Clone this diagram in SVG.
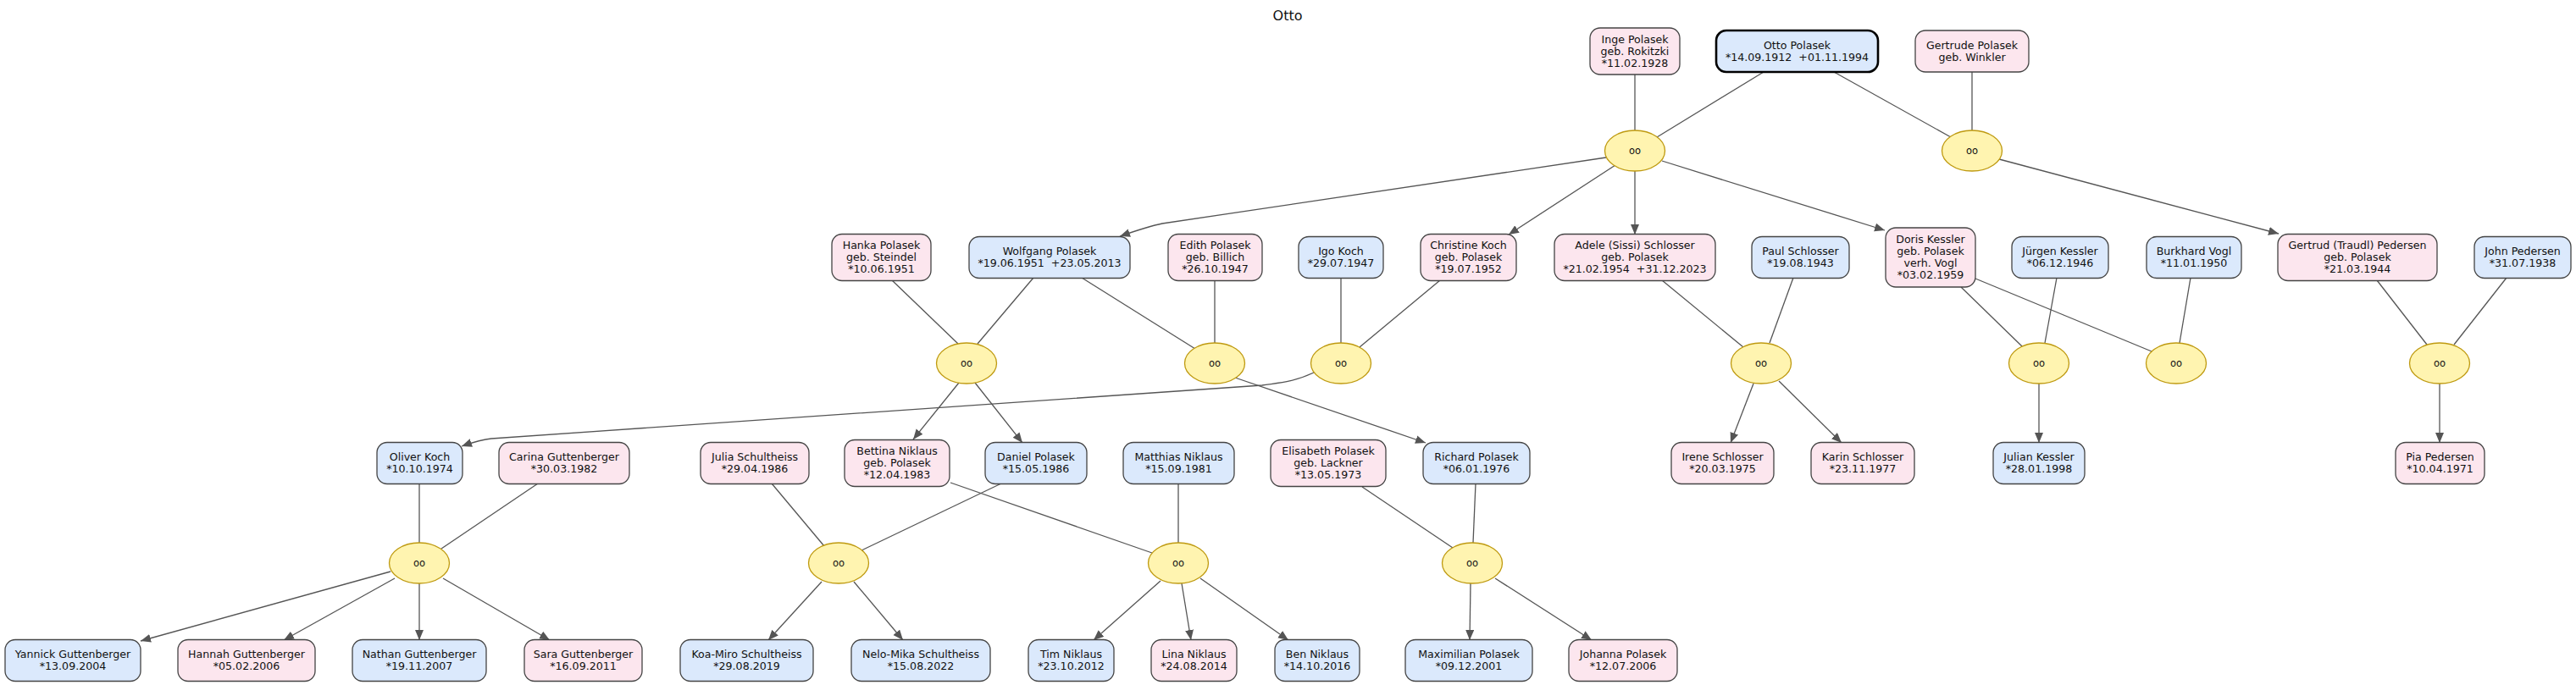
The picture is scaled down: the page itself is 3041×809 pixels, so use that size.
<svg xmlns="http://www.w3.org/2000/svg" width="3041" height="809" viewBox="0 0 3041 809">
<style>
text{font-family:"DejaVu Sans","Liberation Sans",sans-serif;font-size:12.6px;fill:#111;text-anchor:middle;white-space:pre}
.title{font-size:16px}
.m rect{fill:#dbe9fc;stroke:#444;stroke-width:1.3}
.f rect{fill:#fce6ee;stroke:#444;stroke-width:1.3}
.root rect{stroke:#000;stroke-width:2.6}
.mar ellipse{fill:#fff4b0;stroke:#bf9a10;stroke-width:1.3}
.mar text{font-size:11.5px}
#edges path{fill:none;stroke:#555;stroke-width:1.3}
#edges .a{marker-end:url(#arr)}
</style>
<defs>
<marker id="arr" markerUnits="userSpaceOnUse" markerWidth="14" markerHeight="12" refX="12" refY="5" orient="auto">
<path d="M0,0 L12,5 L0,10 Z" fill="#555"/>
</marker>
</defs>
<rect width="3041" height="809" fill="#fff"/>
<text class="title" x="1520" y="24">Otto</text>
<g id="edges">
<path d="M1930,88 L1930,154"/>
<path d="M2082,85 L1956,162"/>
<path d="M2165,85 L2303,162"/>
<path d="M2328,85 L2328,154"/>
<path d="M1053,331 L1131,406"/>
<path d="M1220,328 L1154,406"/>
<path d="M1277,328 L1411,412"/>
<path d="M1434,331 L1434,405"/>
<path d="M1583,328 L1583,405"/>
<path d="M1700,331 L1605,410"/>
<path d="M1962,331 L2058,410"/>
<path d="M2117,328 L2089,405"/>
<path d="M2315,339 L2388,410"/>
<path d="M2428,328 L2414,405"/>
<path d="M2332,329 L2540,415"/>
<path d="M2586,328 L2573,405"/>
<path d="M2806,331 L2865,407"/>
<path d="M2959,328 L2897,407"/>
<path d="M495,571 L495,641"/>
<path d="M635,571 L521,648"/>
<path d="M911,571 L973,645"/>
<path d="M1182,571 L1017,650"/>
<path d="M1122,570 L1360,653"/>
<path d="M1391,571 L1391,641"/>
<path d="M1608,575 L1715,647"/>
<path d="M1742,571 L1739,641"/>
<path class="a" d="M1896,186 L1372,264 Q1357,267 1322,279"/>
<path class="a" d="M1907,195 L1781,277"/>
<path class="a" d="M1930,202 L1930,277"/>
<path class="a" d="M1962,190 L2225,272"/>
<path class="a" d="M2360,188 L2690,276"/>
<path class="a" d="M1132,452 L1078,519"/>
<path class="a" d="M1151,452 L1207,523"/>
<path class="a" d="M1458,446 L1683,523"/>
<path class="a" d="M1551,440 C1525,452 1510,452 1490,455 L580,518 Q568,519 545,527"/>
<path class="a" d="M2070,453 L2043,523"/>
<path class="a" d="M2100,450 L2174,523"/>
<path class="a" d="M2407,453 L2407,523"/>
<path class="a" d="M2880,453 L2880,523"/>
<path class="a" d="M461,675 L166,757"/>
<path class="a" d="M466,683 L335,756"/>
<path class="a" d="M495,689 L495,756"/>
<path class="a" d="M523,683 L649,756"/>
<path class="a" d="M970,687 L907,756"/>
<path class="a" d="M1008,687 L1066,756"/>
<path class="a" d="M1370,686 L1291,756"/>
<path class="a" d="M1395,689 L1406,756"/>
<path class="a" d="M1417,683 L1521,756"/>
<path class="a" d="M1736,689 L1735,756"/>
<path class="a" d="M1765,683 L1879,756"/>
</g>
<g id="m1" class="mar"><ellipse cx="1930" cy="178" rx="35.5" ry="24"/><text x="1930" y="182">oo</text></g>
<g id="m2" class="mar"><ellipse cx="2328" cy="178" rx="35.5" ry="24"/><text x="2328" y="182">oo</text></g>
<g id="m3" class="mar"><ellipse cx="1141" cy="429" rx="35.5" ry="24"/><text x="1141" y="433">oo</text></g>
<g id="m4" class="mar"><ellipse cx="1434" cy="429" rx="35.5" ry="24"/><text x="1434" y="433">oo</text></g>
<g id="m5" class="mar"><ellipse cx="1583" cy="429" rx="35.5" ry="24"/><text x="1583" y="433">oo</text></g>
<g id="m6" class="mar"><ellipse cx="2079" cy="429" rx="35.5" ry="24"/><text x="2079" y="433">oo</text></g>
<g id="m7" class="mar"><ellipse cx="2407" cy="429" rx="35.5" ry="24"/><text x="2407" y="433">oo</text></g>
<g id="m8" class="mar"><ellipse cx="2569" cy="429" rx="35.5" ry="24"/><text x="2569" y="433">oo</text></g>
<g id="m9" class="mar"><ellipse cx="2880" cy="429" rx="35.5" ry="24"/><text x="2880" y="433">oo</text></g>
<g id="m10" class="mar"><ellipse cx="495" cy="665" rx="35.5" ry="24"/><text x="495" y="669">oo</text></g>
<g id="m11" class="mar"><ellipse cx="990" cy="665" rx="35.5" ry="24"/><text x="990" y="669">oo</text></g>
<g id="m12" class="mar"><ellipse cx="1391" cy="665" rx="35.5" ry="24"/><text x="1391" y="669">oo</text></g>
<g id="m13" class="mar"><ellipse cx="1738" cy="665" rx="35.5" ry="24"/><text x="1738" y="669">oo</text></g>

<g id="inge" class="f"><rect x="1877" y="33" width="106" height="55" rx="12"/><text><tspan x="1930" y="50.5">Inge Polasek</tspan><tspan x="1930" y="64.5">geb. Rokitzki</tspan><tspan x="1930" y="78.5">*11.02.1928</tspan></text></g>
<g id="otto" class="m root"><rect x="2026" y="36" width="191" height="49" rx="12"/><text><tspan x="2121.5" y="57.5">Otto Polasek</tspan><tspan x="2121.5" y="71.5">*14.09.1912  +01.11.1994</tspan></text></g>
<g id="gertrude" class="f"><rect x="2261" y="36" width="134" height="49" rx="12"/><text><tspan x="2328" y="57.5">Gertrude Polasek</tspan><tspan x="2328" y="71.5">geb. Winkler</tspan></text></g>

<g id="hanka" class="f"><rect x="982" y="276.5" width="117" height="55" rx="12"/><text><tspan x="1040.5" y="294">Hanka Polasek</tspan><tspan x="1040.5" y="308">geb. Steindel</tspan><tspan x="1040.5" y="322">*10.06.1951</tspan></text></g>
<g id="wolfgang" class="m"><rect x="1144" y="279.5" width="190" height="49" rx="12"/><text><tspan x="1239" y="301">Wolfgang Polasek</tspan><tspan x="1239" y="315">*19.06.1951  +23.05.2013</tspan></text></g>
<g id="edith" class="f"><rect x="1379" y="276.5" width="111" height="55" rx="12"/><text><tspan x="1434.5" y="294">Edith Polasek</tspan><tspan x="1434.5" y="308">geb. Billich</tspan><tspan x="1434.5" y="322">*26.10.1947</tspan></text></g>
<g id="igo" class="m"><rect x="1533" y="279.5" width="100" height="49" rx="12"/><text><tspan x="1583" y="301">Igo Koch</tspan><tspan x="1583" y="315">*29.07.1947</tspan></text></g>
<g id="christine" class="f"><rect x="1677" y="276.5" width="113" height="55" rx="12"/><text><tspan x="1733.5" y="294">Christine Koch</tspan><tspan x="1733.5" y="308">geb. Polasek</tspan><tspan x="1733.5" y="322">*19.07.1952</tspan></text></g>
<g id="adele" class="f"><rect x="1835" y="276.5" width="190" height="55" rx="12"/><text><tspan x="1930" y="294">Adele (Sissi) Schlosser</tspan><tspan x="1930" y="308">geb. Polasek</tspan><tspan x="1930" y="322">*21.02.1954  +31.12.2023</tspan></text></g>
<g id="paul" class="m"><rect x="2068" y="279.5" width="115" height="49" rx="12"/><text><tspan x="2125.5" y="301">Paul Schlosser</tspan><tspan x="2125.5" y="315">*19.08.1943</tspan></text></g>
<g id="doris" class="f"><rect x="2226" y="269" width="106" height="70" rx="12"/><text><tspan x="2279" y="287">Doris Kessler</tspan><tspan x="2279" y="301">geb. Polasek</tspan><tspan x="2279" y="315">verh. Vogl</tspan><tspan x="2279" y="329">*03.02.1959</tspan></text></g>
<g id="juergen" class="m"><rect x="2375" y="279.5" width="114" height="49" rx="12"/><text><tspan x="2432" y="301">Jürgen Kessler</tspan><tspan x="2432" y="315">*06.12.1946</tspan></text></g>
<g id="burkhard" class="m"><rect x="2534" y="279.5" width="112" height="49" rx="12"/><text><tspan x="2590" y="301">Burkhard Vogl</tspan><tspan x="2590" y="315">*11.01.1950</tspan></text></g>
<g id="gertrud" class="f"><rect x="2689" y="276.5" width="188" height="55" rx="12"/><text><tspan x="2783" y="294">Gertrud (Traudl) Pedersen</tspan><tspan x="2783" y="308">geb. Polasek</tspan><tspan x="2783" y="322">*21.03.1944</tspan></text></g>
<g id="john" class="m"><rect x="2921" y="279.5" width="114" height="49" rx="12"/><text><tspan x="2978" y="301">John Pedersen</tspan><tspan x="2978" y="315">*31.07.1938</tspan></text></g>

<g id="oliver" class="m"><rect x="445" y="522.5" width="101" height="49" rx="12"/><text><tspan x="495.5" y="544">Oliver Koch</tspan><tspan x="495.5" y="558">*10.10.1974</tspan></text></g>
<g id="carina" class="f"><rect x="589" y="522.5" width="154" height="49" rx="12"/><text><tspan x="666" y="544">Carina Guttenberger</tspan><tspan x="666" y="558">*30.03.1982</tspan></text></g>
<g id="julia" class="f"><rect x="827" y="522.5" width="128" height="49" rx="12"/><text><tspan x="891" y="544">Julia Schultheiss</tspan><tspan x="891" y="558">*29.04.1986</tspan></text></g>
<g id="bettina" class="f"><rect x="997" y="519.5" width="124" height="55" rx="12"/><text><tspan x="1059" y="537">Bettina Niklaus</tspan><tspan x="1059" y="551">geb. Polasek</tspan><tspan x="1059" y="565">*12.04.1983</tspan></text></g>
<g id="daniel" class="m"><rect x="1163" y="522.5" width="120" height="49" rx="12"/><text><tspan x="1223" y="544">Daniel Polasek</tspan><tspan x="1223" y="558">*15.05.1986</tspan></text></g>
<g id="matthias" class="m"><rect x="1326" y="522.5" width="131" height="49" rx="12"/><text><tspan x="1391.5" y="544">Matthias Niklaus</tspan><tspan x="1391.5" y="558">*15.09.1981</tspan></text></g>
<g id="elisabeth" class="f"><rect x="1500" y="519.5" width="136" height="55" rx="12"/><text><tspan x="1568" y="537">Elisabeth Polasek</tspan><tspan x="1568" y="551">geb. Lackner</tspan><tspan x="1568" y="565">*13.05.1973</tspan></text></g>
<g id="richard" class="m"><rect x="1680" y="522.5" width="126" height="49" rx="12"/><text><tspan x="1743" y="544">Richard Polasek</tspan><tspan x="1743" y="558">*06.01.1976</tspan></text></g>
<g id="irene" class="f"><rect x="1973" y="522.5" width="121" height="49" rx="12"/><text><tspan x="2033.5" y="544">Irene Schlosser</tspan><tspan x="2033.5" y="558">*20.03.1975</tspan></text></g>
<g id="karin" class="f"><rect x="2138" y="522.5" width="122" height="49" rx="12"/><text><tspan x="2199" y="544">Karin Schlosser</tspan><tspan x="2199" y="558">*23.11.1977</tspan></text></g>
<g id="julian" class="m"><rect x="2353" y="522.5" width="108" height="49" rx="12"/><text><tspan x="2407" y="544">Julian Kessler</tspan><tspan x="2407" y="558">*28.01.1998</tspan></text></g>
<g id="pia" class="f"><rect x="2828" y="522.5" width="105" height="49" rx="12"/><text><tspan x="2880.5" y="544">Pia Pedersen</tspan><tspan x="2880.5" y="558">*10.04.1971</tspan></text></g>

<g id="yannick" class="m"><rect x="6" y="755.5" width="160" height="49" rx="12"/><text><tspan x="86" y="777">Yannick Guttenberger</tspan><tspan x="86" y="791">*13.09.2004</tspan></text></g>
<g id="hannah" class="f"><rect x="210" y="755.5" width="162" height="49" rx="12"/><text><tspan x="291" y="777">Hannah Guttenberger</tspan><tspan x="291" y="791">*05.02.2006</tspan></text></g>
<g id="nathan" class="m"><rect x="416" y="755.5" width="158" height="49" rx="12"/><text><tspan x="495" y="777">Nathan Guttenberger</tspan><tspan x="495" y="791">*19.11.2007</tspan></text></g>
<g id="sara" class="f"><rect x="619" y="755.5" width="139" height="49" rx="12"/><text><tspan x="688.5" y="777">Sara Guttenberger</tspan><tspan x="688.5" y="791">*16.09.2011</tspan></text></g>
<g id="koamiro" class="m"><rect x="803" y="755.5" width="157" height="49" rx="12"/><text><tspan x="881.5" y="777">Koa-Miro Schultheiss</tspan><tspan x="881.5" y="791">*29.08.2019</tspan></text></g>
<g id="nelomika" class="m"><rect x="1005" y="755.5" width="164" height="49" rx="12"/><text><tspan x="1087" y="777">Nelo-Mika Schultheiss</tspan><tspan x="1087" y="791">*15.08.2022</tspan></text></g>
<g id="tim" class="m"><rect x="1214" y="755.5" width="101" height="49" rx="12"/><text><tspan x="1264.5" y="777">Tim Niklaus</tspan><tspan x="1264.5" y="791">*23.10.2012</tspan></text></g>
<g id="lina" class="f"><rect x="1359" y="755.5" width="101" height="49" rx="12"/><text><tspan x="1409.5" y="777">Lina Niklaus</tspan><tspan x="1409.5" y="791">*24.08.2014</tspan></text></g>
<g id="ben" class="m"><rect x="1505" y="755.5" width="100" height="49" rx="12"/><text><tspan x="1555" y="777">Ben Niklaus</tspan><tspan x="1555" y="791">*14.10.2016</tspan></text></g>
<g id="maximilian" class="m"><rect x="1659" y="755.5" width="150" height="49" rx="12"/><text><tspan x="1734" y="777">Maximilian Polasek</tspan><tspan x="1734" y="791">*09.12.2001</tspan></text></g>
<g id="johanna" class="f"><rect x="1852" y="755.5" width="128" height="49" rx="12"/><text><tspan x="1916" y="777">Johanna Polasek</tspan><tspan x="1916" y="791">*12.07.2006</tspan></text></g>
</svg>
